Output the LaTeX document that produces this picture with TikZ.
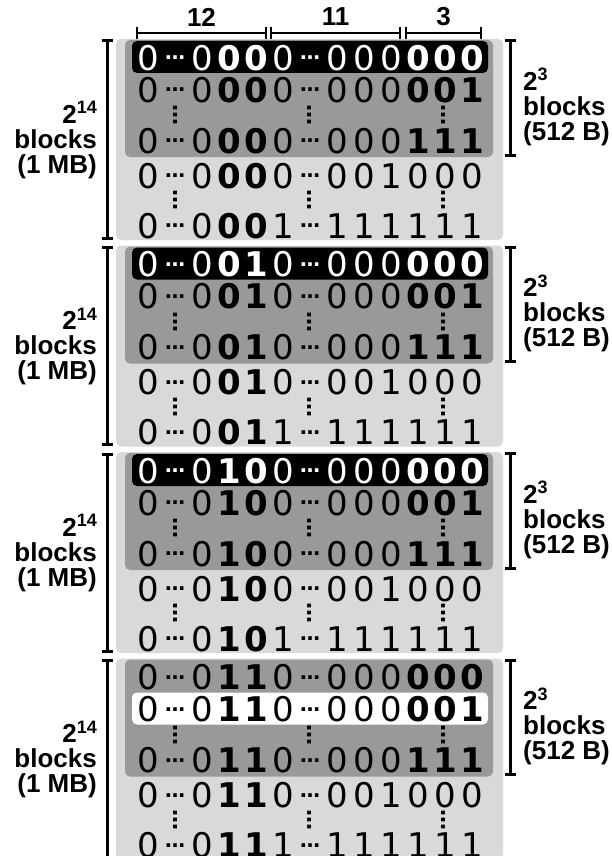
\documentclass[tikz,border=0pt]{standalone}
\usepackage{fontspec}
\newfontfamily\digfont{DejaVu Sans}
\newfontfamily\labfont{Liberation Sans}
\definecolor{lightp}{HTML}{D9D9D9}
\definecolor{darkp}{HTML}{999999}
\newcommand\dn[1]{{\digfont\fontsize{34}{40}\selectfont#1}}
\newcommand\db[1]{{\digfont\bfseries\fontsize{34}{40}\selectfont#1}}
\newcommand\de{{\digfont\bfseries\fontsize{20}{20}\selectfont\raisebox{10.6pt}{…}}}
\newcommand\vd{{\digfont\bfseries\fontsize{21}{21}\selectfont …}}
\newcommand\putrow[4]{%
  \foreach \c [count=\k from 0] in {#4} {%
    \node[cell=#3] (n#1-\k) at ({148+27*\k},{#2+12.4}) {\c};
  }}
\tikzset{
  cell/.style={anchor=base, inner sep=0pt, text=#1},
  lightpanel/.style={fill=lightp, rounded corners=5pt},
  darkpanel/.style={fill=darkp, rounded corners=5pt},
  hlbox/.style={fill=#1, rounded corners=5pt},
  brk/.style={line width=3pt},
  lab/.style={font=\labfont\bfseries\fontsize{26}{25}\selectfont, inner sep=0pt},
  vdots/.style={rotate=90, inner sep=0pt},
}
\begin{document}
\begin{tikzpicture}[x=1pt,y=-1pt]
\useasboundingbox (0,0) rectangle (611,856);
% top brackets
\draw[brk, line width=2.8pt] (137,27)--(137,39) (137,33)--(266,33) (266,27)--(266,39);
\draw[brk, line width=2.8pt] (271,27)--(271,39) (271,33)--(400,33) (400,27)--(400,39);
\draw[brk, line width=2.8pt] (406,27)--(406,39) (406,33)--(481,33) (481,27)--(481,39);
\node[lab] (t12) at (201.5,17) {12};
\node[lab] (t11) at (335.5,17) {11};
\node[lab] (t3) at (443.5,17) {3};
\foreach \p/\ba/\bb in {0/0/0,1/0/1,2/1/0,3/1/1} {
  \pgfmathsetmacro\T{39+206.5*\p}
  \fill[lightpanel] (116,\T) rectangle (503,\T+201);
  \fill[darkpanel] (125,\T+1) rectangle (493,\T+118);
  \ifnum\p<3
    \fill[hlbox=black] (132,\T+2) rectangle (488,\T+34);
    \def\rowonecol{white}
    \def\rowtwocol{black}
  \else
    \fill[hlbox=white] (132,\T+34) rectangle (488,\T+66);
    \def\rowonecol{black}
    \def\rowtwocol{black}
  \fi
  \putrow{p\p r1}{\T+19}{\rowonecol}{\dn0,\de,\dn0,\db\ba,\db\bb,\dn0,\de,\dn0,\dn0,\dn0,\db0,\db0,\db0}
  \putrow{p\p r2}{\T+51}{\rowtwocol}{\dn0,\de,\dn0,\db\ba,\db\bb,\dn0,\de,\dn0,\dn0,\dn0,\db0,\db0,\db1}
  \putrow{p\p r3}{\T+102}{black}{\dn0,\de,\dn0,\db\ba,\db\bb,\dn0,\de,\dn0,\dn0,\dn0,\db1,\db1,\db1}
  \putrow{p\p r4}{\T+137}{black}{\dn0,\de,\dn0,\db\ba,\db\bb,\dn0,\de,\dn0,\dn0,\dn1,\dn0,\dn0,\dn0}
  \putrow{p\p r5}{\T+187}{black}{\dn0,\de,\dn0,\db\ba,\db\bb,\dn1,\de,\dn1,\dn1,\dn1,\dn1,\dn1,\dn1}
  \foreach \vx [count=\j] in {176,310,444} {
    \node[vdots] (v\p a\j) at (\vx,\T+76) {\vd};
    \node[vdots] (v\p b\j) at (\vx,\T+161) {\vd};
  }
  % left bracket
  \ifnum\p<3
    \draw[brk] (101.5,\T+2)--(112.5,\T+2) (107,\T+2)--(107,\T+199) (101.5,\T+199)--(112.5,\T+199);
  \else
    \draw[brk] (101.5,\T+2)--(112.5,\T+2) (107,\T+2)--(107,\T+210);
  \fi
  % right bracket
  \draw[brk] (504.5,\T+1.5)--(515.5,\T+1.5) (510,\T+1.5)--(510,\T+116) (504.5,\T+116)--(515.5,\T+116);
  \node[lab, anchor=east, align=right] (L\p) at (97,\T+101) {2\raisebox{9.5pt}{\fontsize{18}{18}\selectfont 14}\\blocks\\(1 MB)};
  \node[lab, anchor=west, align=left] (R\p) at (523,\T+68) {2\raisebox{9.5pt}{\fontsize{18}{18}\selectfont 3}\\blocks\\(512 B)};
}
\end{tikzpicture}
\end{document}
